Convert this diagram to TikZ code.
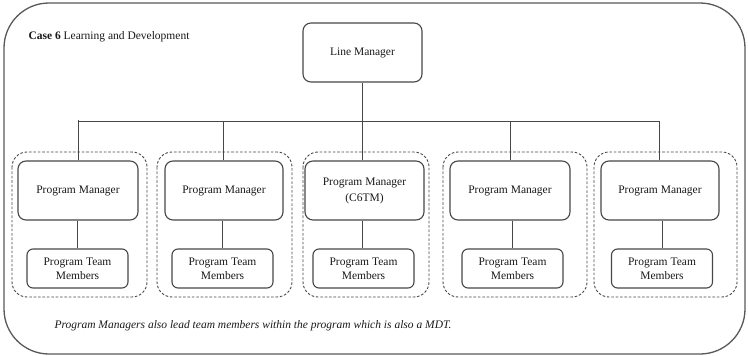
\documentclass[tikz,border=0pt]{standalone}
\usepackage{fontspec}
\setmainfont{Liberation Serif}
\begin{document}
\begin{tikzpicture}[x=1pt,y=-1pt,
  every node/.style={font=\fontsize{11.5}{14}\selectfont, text=black!90},
  ln/.style={draw=black!72, line width=1.1pt},
  mgrbox/.style={ln, rounded corners=8pt, minimum width=119pt, minimum height=59pt, align=center, inner sep=0pt},
  teambox/.style={ln, rounded corners=6pt, minimum width=101pt, minimum height=39pt, align=center, inner sep=0pt},
  groupbox/.style={draw=black!72, line width=0.9pt, dash pattern=on 2.6pt off 1.8pt, rounded corners=15pt},
  wire/.style={draw=black!72, line width=1pt}]
\useasboundingbox (0,0) rectangle (748,356);
% outer frame
\draw[draw=black!65, line width=1.3pt, rounded corners=45pt] (4,3) rectangle (745,354);
% heading and footnote
\node[anchor=west] (title) at (25,37) {\textbf{Case 6} Learning and Development};
\node[anchor=west, font=\fontsize{11.5}{14}\selectfont\itshape] (note) at (51,326)
  {Program Managers also lead team members within the program which is also a MDT.};
% dashed groups
\draw[groupbox] (12,152) rectangle (147,297);
\draw[groupbox] (157,152) rectangle (292,297);
\draw[groupbox] (303,152) rectangle (429,297);
\draw[groupbox] (443,152) rectangle (587,297);
\draw[groupbox] (594,152) rectangle (737,297);
% boxes
\node[mgrbox] (lm) at (362.5,52.5) {Line Manager};
\node[mgrbox, minimum width=120pt] (pm1) at (78,190.5) {Program Manager};
\node[mgrbox, minimum width=118pt] (pm2) at (224,190.5) {Program Manager};
\node[mgrbox, font=\fontsize{11.5}{16}\selectfont] (pm3) at (364.5,190.5) {Program Manager\\(C6TM)};
\node[mgrbox, minimum width=120pt] (pm4) at (510,190.5) {Program Manager};
\node[mgrbox, minimum width=118pt] (pm5) at (660,190.5) {Program Manager};
\node[teambox] (tm1) at (77.5,268.5) {Program Team\\Members};
\node[teambox] (tm2) at (222.5,268.5) {Program Team\\Members};
\node[teambox] (tm3) at (363.5,268.5) {Program Team\\Members};
\node[teambox] (tm4) at (512.5,268.5) {Program Team\\Members};
\node[teambox] (tm5) at (662,268.5) {Program Team\\Members};
% reporting lines
\coordinate (bus) at (362,121);
\draw[wire] (lm.south -| bus) -- (pm3.north -| bus);
\draw[wire] (78,121) -- (659,121);
\draw[wire] (pm1.north) ++(0,-40) -- (pm1.north);
\draw[wire] (223,121) -- (pm2.north -| 223,0);
\draw[wire] (510,121) -- (pm4.north);
\draw[wire] (659,121) -- (pm5.north -| 659,0);
\draw[wire] (pm1.south -| tm1.north) -- (tm1.north);
\draw[wire] (pm2.south -| tm2.north) -- (tm2.north);
\draw[wire] (pm3.south -| 362,0) -- (tm3.north -| 362,0);
\draw[wire] (pm4.south -| tm4.north) -- (tm4.north);
\draw[wire] (pm5.south -| tm5.north) -- (tm5.north);
\end{tikzpicture}
\end{document}
